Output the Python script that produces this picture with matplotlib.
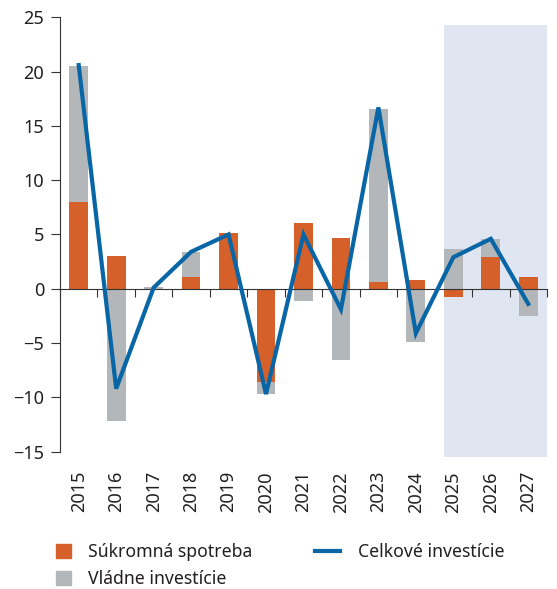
import matplotlib
matplotlib.use("Agg")
import matplotlib.pyplot as plt
import numpy as np
from matplotlib.patches import Rectangle
from matplotlib.lines import Line2D

plt.rcParams['font.family'] = ['Noto Sans', 'DejaVu Sans']

years = ["2015", "2016", "2017", "2018", "2019", "2020", "2021",
         "2022", "2023", "2024", "2025", "2026", "2027"]
sukromna_spotreba = [8.0, 3.0, -0.1, 1.1, 5.1, -8.6, 6.1, 4.7, 0.6, 0.8, -0.8, 2.9, 1.1]
vladne_investicie = [12.5, -12.2, 0.2, 2.3, -0.1, -1.1, -1.1, -6.6, 16.0, -4.9, 3.7, 1.7, -2.5]
celkove_investicie = [20.6, -9.2, 0.1, 3.4, 5.0, -9.7, 5.0, -1.9, 16.7, -4.1, 2.9, 4.6, -1.4]
forecast_from = "2025"

c_orange = "#D5602A"
c_gray = "#B3B7B9"
c_blue = "#0866A6"
c_shade = "#DFE6F1"
c_text = "#231F20"

fig = plt.figure(figsize=(5.57, 5.89), dpi=100)
ax = fig.add_axes([0.1077, 0.2333, 0.9820 - 0.1077, 0.9706 - 0.2333])

x = np.arange(len(years))
width = 0.5

# diverging stack: positives pile up above zero, negatives below
pos_base = np.zeros(len(years))
neg_base = np.zeros(len(years))
for vals, col in [(sukromna_spotreba, c_orange), (vladne_investicie, c_gray)]:
    vals = np.array(vals)
    base = np.where(vals >= 0, pos_base, neg_base)
    ax.bar(x, vals, width, bottom=base, color=col, linewidth=0, zorder=1)
    pos_base += np.clip(vals, 0, None)
    neg_base += np.clip(vals, None, 0)

ax.plot(x, celkove_investicie, color=c_blue, lw=3, zorder=3,
        solid_joinstyle="miter")

# forecast period
i0 = years.index(forecast_from)
ax.add_patch(Rectangle((i0 - width / 2, -15.5), len(years) - 0.5 - (i0 - width / 2), 39.8,
                       facecolor=c_shade, edgecolor="none", zorder=0, clip_on=False))

ax.set_xlim(-0.5, len(years) - 0.5)
ax.set_ylim(-15, 25)
ax.set_yticks(np.arange(-15, 26, 5))
ax.tick_params(axis="y", direction="out", length=6.5, width=0.8, color="#333333",
               labelsize=13, labelcolor=c_text, pad=5)

for s in ["top", "right"]:
    ax.spines[s].set_visible(False)
ax.spines["left"].set_color("#333333")
ax.spines["left"].set_linewidth(0.8)
ax.spines["bottom"].set_position(("data", 0))
ax.spines["bottom"].set_color("#333333")
ax.spines["bottom"].set_linewidth(0.8)
ax.spines["bottom"].set_zorder(2.5)

ax.set_xticks(np.arange(-0.5, len(years), 1.0))
ax.set_xticklabels([])
ax.tick_params(axis="x", direction="out", length=6, width=0.8, color="#333333")

sec = ax.secondary_xaxis("bottom")
sec.set_xticks(x)
sec.set_xticklabels(years, rotation=90, fontsize=13, color=c_text)
sec.tick_params(length=0, pad=14)
sec.spines["bottom"].set_visible(False)

bar_handles = [Rectangle((0, 0), 1, 1, color=c_orange), Rectangle((0, 0), 1, 1, color=c_gray)]
leg1 = fig.legend(bar_handles, ["Súkromná spotreba", "Vládne investície"],
                  loc="upper left", bbox_to_anchor=(0.088, 0.09), frameon=False,
                  fontsize=12.7, handlelength=0.85, handleheight=0.85, handletextpad=0.95,
                  labelspacing=0.5, borderaxespad=0, labelcolor=c_text)
leg2 = fig.legend([Line2D([0], [0], color=c_blue, lw=3)], ["Celkové investície"],
                  loc="upper left", bbox_to_anchor=(0.552, 0.09), frameon=False,
                  fontsize=12.7, handlelength=1.45, handletextpad=1.0,
                  borderaxespad=0, labelcolor=c_text)

fig.savefig("out.png", dpi=100)
